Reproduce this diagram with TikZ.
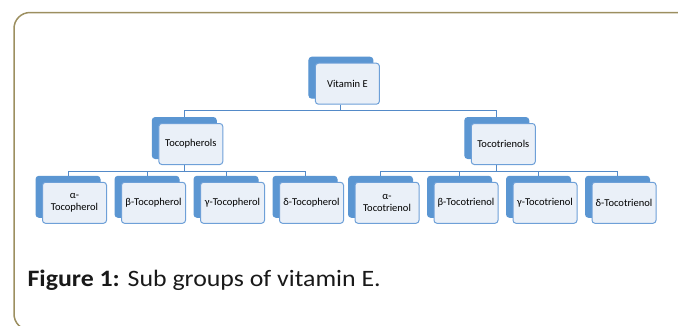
\documentclass[tikz,border=0pt]{standalone}
\usepackage{fontspec}
\setmainfont{Carlito}
\newfontfamily\capfont[FakeStretch=1.1]{Carlito}
\usepackage{xcolor}
\usetikzlibrary{positioning,shadows,calc}
\definecolor{boxblue}{RGB}{110,160,216}
\definecolor{backblue}{RGB}{91,150,210}
\definecolor{boxfill}{RGB}{234,240,248}
\definecolor{linkblue}{RGB}{84,138,200}
\definecolor{framecol}{RGB}{156,143,96}
\tikzset{
  unit/.style={
    rectangle,
    rounded corners=3pt,
    draw=boxblue, fill=boxfill, line width=1pt,
    minimum width=64pt,
    minimum height=41pt,
    inner sep=1pt,
    align=center,
    font=\fontsize{10.5}{12}\selectfont,
    copy shadow={shadow xshift=-6.5pt, shadow yshift=6pt, fill=backblue, draw=backblue}},
  link/.style={draw=linkblue, line width=1pt},
}
\newcommand{\branch}[2]{%
  \path[link] ([xshift=-6.5pt]#1.south) -- ++(0,-6pt) -| ([xshift=-6.5pt,yshift=6pt]#2.north);}

\begin{document}
\begin{tikzpicture}[x=1pt,y=1pt]
    \useasboundingbox (0,0) rectangle (678,-325);
    \begin{scope}
      \clip (0,0) rectangle (678,-325);
      \draw[framecol, line width=1.5pt, rounded corners=16pt] (14,-12.5) rectangle (700,-330);
    \end{scope}

    \node[unit] (vitE) at (347.4,-83.7) {Vitamin E};

    \node[unit] (tocoph) at (190.8,-144) {Tocopherols};
    \node[unit] (tocotr) at (503.3,-144) {Tocotrienols};

    % tocopherols
    \node[unit] (aTph) at (74.5,-202.8) {α-\\Tocopherol};
      \node[unit, right=14pt of aTph] (bTph) {β-Tocopherol};
      \node[unit, right=14pt of bTph] (gTph) {γ-Tocopherol};
      \node[unit, right=14pt of gTph] (dTph) {δ-Tocopherol};

    % tocotrienols
    \node[unit] (aTtr) at (387,-202.8) {α-\\Tocotrienol};
      \node[unit, right=14pt of aTtr] (bTtr) {β-Tocotrienol};
      \node[unit, right=14pt of bTtr] (gTtr) {γ-Tocotrienol};
      \node[unit, right=14pt of gTtr] (dTtr) {δ-Tocotrienol};

    \branch{vitE}{tocoph}
    \branch{vitE}{tocotr}
    \foreach \kid in {aTph,bTph,gTph,dTph} {\branch{tocoph}{\kid}}
    \foreach \kid in {aTtr,bTtr,gTtr,dTtr} {\branch{tocotr}{\kid}}

    \node[anchor=base west, font=\capfont\fontsize{23.5}{26}\selectfont, text=black!90] (caption) at (24,-286)
      {\textbf{Figure 1:} Sub groups of vitamin E.};
\end{tikzpicture}
\end{document}
